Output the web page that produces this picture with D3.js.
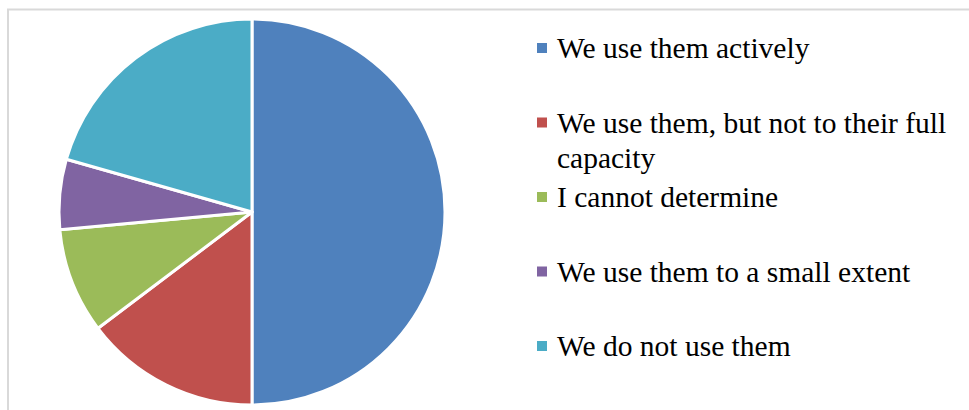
<!DOCTYPE html>
<html>
<head>
<meta charset="utf-8">
<script src="https://cdn.jsdelivr.net/npm/d3@7"></script>
<style>
  body { margin: 0; background: #fff; }
  svg { display: block; }
</style>
</head>
<body>
<div id="chart"></div>
<script>
var categories = [
    "We use them actively",
    "We use them, but not to their full capacity",
    "I cannot determine",
    "We use them to a small extent",
    "We do not use them"
];
var counts = [17, 5, 3, 2, 7];
var colors = ["#4F81BD", "#C0504D", "#9BBB59", "#8064A2", "#4BACC6"];

var width = 969,
    height = 410,
    cx = 252,
    cy = 212,
    radius = 193;

var data = categories.map(function(c, i) { return {name: c, value: counts[i]}; });

var svg = d3.select("#chart").append("svg")
    .attr("width", width)
    .attr("height", height);

// chart area border (runs off the right and bottom of the picture)
svg.append("rect")
    .attr("x", 8)
    .attr("y", 9.5)
    .attr("width", width + 20)
    .attr("height", height + 20)
    .attr("fill", "none")
    .attr("stroke", "#D9D9D9")
    .attr("stroke-width", 2);

var color = d3.scaleOrdinal().domain(categories).range(colors);

var pie = d3.pie()
    .sort(null)
    .value(function(d) { return d.value; });

var arc = d3.arc().innerRadius(0).outerRadius(radius);

var g = svg.append("g")
    .attr("transform", "translate(" + cx + "," + cy + ")");

g.selectAll("path")
    .data(pie(data))
    .enter().append("path")
    .attr("d", arc)
    .attr("fill", function(d) { return color(d.data.name); })
    .attr("stroke", "#fff")
    .attr("stroke-width", 3)
    .attr("stroke-linejoin", "round");

// legend
var y = d3.scalePoint().domain(categories).range([58, 356]);
var legendX = 537,
    textX = 557,
    maxWidth = 400;

var items = svg.selectAll(".legend")
    .data(data)
    .enter().append("g")
    .attr("class", "legend")
    .attr("transform", function(d) { return "translate(0," + y(d.name) + ")"; });

items.append("rect")
    .attr("x", legendX)
    .attr("y", -15)
    .attr("width", 10)
    .attr("height", 10)
    .attr("fill", function(d) { return color(d.name); });

items.append("text")
    .attr("x", textX)
    .attr("y", 0)
    .attr("font-family", "'Liberation Serif', 'Times New Roman', serif")
    .attr("font-size", 29.5)
    .attr("fill", "#000")
    .each(function(d) {
        var text = d3.select(this),
            words = d.name.split(" "),
            line = [],
            tspan = text.append("tspan").attr("x", textX).attr("dy", 0);
        words.forEach(function(w) {
            line.push(w);
            tspan.text(line.join(" "));
            if (tspan.node().getComputedTextLength() > maxWidth && line.length > 1) {
                line.pop();
                tspan.text(line.join(" "));
                line = [w];
                tspan = text.append("tspan").attr("x", textX).attr("dy", 35).text(w);
            }
        });
    });
</script>
</body>
</html>
